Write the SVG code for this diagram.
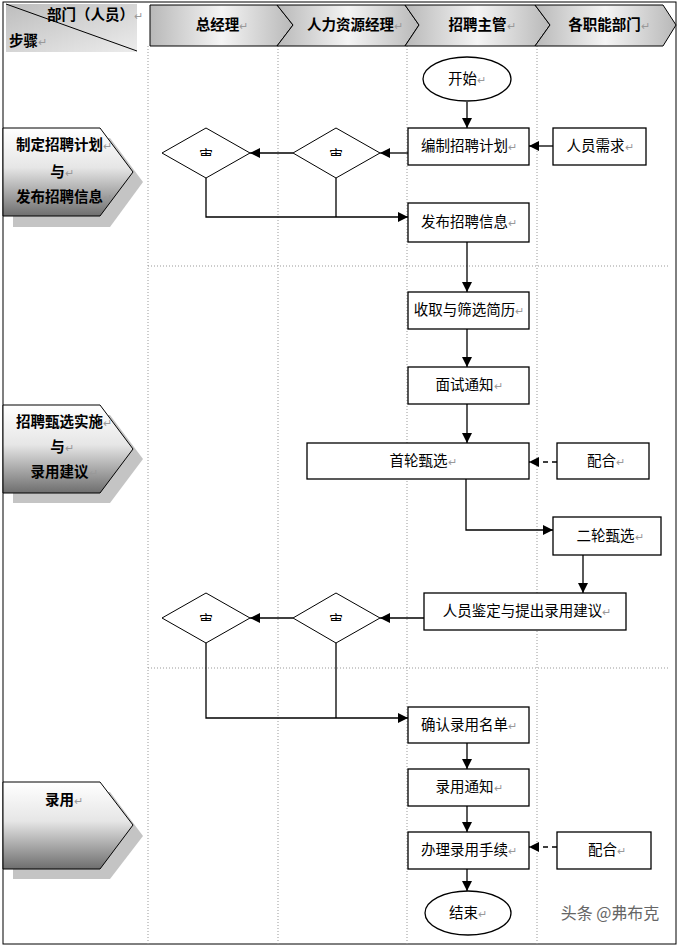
<svg xmlns="http://www.w3.org/2000/svg" width="680" height="948" viewBox="0 0 680 948">
<style>
text{font-family:"Noto Sans CJK SC","Liberation Sans",sans-serif;fill:#000}
.hd{font-size:14.5px;font-weight:bold;text-anchor:middle}
.st{font-size:14.5px;font-weight:bold;text-anchor:middle}
.nd{font-size:14.5px;text-anchor:middle}
.rm{fill:#999;font-weight:normal;font-size:11px}
.box{fill:#fff;stroke:#000;stroke-width:1.3}
.dia{fill:#fff;stroke:#000;stroke-width:1}
.ln{fill:none;stroke:#000;stroke-width:1.3}
.dash{fill:none;stroke:#000;stroke-width:1.3;stroke-dasharray:5,4}
.grid{stroke:#999;stroke-width:1;stroke-dasharray:1,2}
.dt{font-size:14px;text-anchor:middle}
</style>
<defs>
<marker id="ah" viewBox="0 0 10 10" refX="10" refY="5" markerWidth="10" markerHeight="10" markerUnits="userSpaceOnUse" orient="auto">
<path d="M0,0 L10,5 L0,10 z" fill="#000"/>
</marker>
<linearGradient id="hg" x1="0" y1="0" x2="1" y2="0">
<stop offset="0" stop-color="#b8b8b8"/><stop offset="0.5" stop-color="#f4f4f4"/><stop offset="1" stop-color="#b8b8b8"/>
</linearGradient>
<linearGradient id="tl" x1="0" y1="0" x2="1" y2="1">
<stop offset="0" stop-color="#bdbdbd"/><stop offset="1" stop-color="#ececec"/>
</linearGradient>
<linearGradient id="sg" x1="0" y1="0" x2="0" y2="1">
<stop offset="0" stop-color="#ffffff"/><stop offset="0.45" stop-color="#e6e6e6"/><stop offset="1" stop-color="#6e6e6e"/>
</linearGradient>
<clipPath id="half" clipPathUnits="objectBoundingBox"><rect x="0" y="0" width="1" height="0.6"/></clipPath>
</defs>
<rect x="0" y="0" width="680" height="948" fill="#fff"/>
<rect x="3" y="2" width="673" height="942" fill="none" stroke="#000" stroke-width="1"/>

<g id="grid">
<line class="grid" x1="148" y1="46" x2="148" y2="944"/>
<line class="grid" x1="278" y1="46" x2="278" y2="944"/>
<line class="grid" x1="407" y1="46" x2="407" y2="944"/>
<line class="grid" x1="537" y1="46" x2="537" y2="944"/>
<line class="grid" x1="148" y1="266" x2="670" y2="266"/>
<line class="grid" x1="148" y1="668" x2="670" y2="668"/>
</g>

<g id="header">
<g id="corner">
<rect x="6" y="4" width="131" height="48" fill="url(#tl)"/>
<line x1="6" y1="4" x2="137" y2="51" stroke="#000" stroke-width="1"/>
<text class="hd" x="95" y="20">部门（人员）<tspan class="rm">↵</tspan></text>
<text class="hd" x="28" y="46">步骤<tspan class="rm">↵</tspan></text>
</g>
<g id="h1">
<path d="M150,5 L277,5 L293,25 L277,46 L150,46 Z" fill="url(#hg)" stroke="#000" stroke-width="1"/>
<text class="hd" x="222" y="30">总经理<tspan class="rm">↵</tspan></text>
</g>
<g id="h2">
<path d="M277,5 L405,5 L419,25 L405,46 L277,46 L293,25 Z" fill="url(#hg)" stroke="#000" stroke-width="1"/>
<text class="hd" x="355" y="30">人力资源经理<tspan class="rm">↵</tspan></text>
</g>
<g id="h3">
<path d="M405,5 L535,5 L550,25 L535,46 L405,46 L419,25 Z" fill="url(#hg)" stroke="#000" stroke-width="1"/>
<text class="hd" x="482" y="30">招聘主管<tspan class="rm">↵</tspan></text>
</g>
<g id="h4">
<path d="M535,5 L663,5 L676,25 L663,46 L535,46 L550,25 Z" fill="url(#hg)" stroke="#000" stroke-width="1"/>
<text class="hd" x="609" y="30">各职能部门<tspan class="rm">↵</tspan></text>
</g>
</g>

<g id="step1">
<path d="M13,138 L110,138 L143,182 L110,227 L13,227 Z" fill="#c4c4c4"/>
<path d="M3,128 L100,128 L133,172 L100,216 L3,216 Z" fill="url(#sg)" stroke="#000" stroke-width="1"/>
<text class="st" x="64" y="150">制定招聘计划<tspan class="rm">↵</tspan></text>
<text class="st" x="62" y="177">与<tspan class="rm">↵</tspan></text>
<text class="st" x="64" y="202">发布招聘信息<tspan class="rm">↵</tspan></text>
</g>
<g id="step2">
<path d="M13,415 L110,415 L143,459 L110,503 L13,503 Z" fill="#c4c4c4"/>
<path d="M3,405 L100,405 L133,449 L100,493 L3,493 Z" fill="url(#sg)" stroke="#000" stroke-width="1"/>
<text class="st" x="64" y="427">招聘甄选实施<tspan class="rm">↵</tspan></text>
<text class="st" x="62" y="452">与<tspan class="rm">↵</tspan></text>
<text class="st" x="64" y="477">录用建议<tspan class="rm">↵</tspan></text>
</g>
<g id="step3">
<path d="M13,792 L110,792 L143,836 L110,879 L13,879 Z" fill="#c4c4c4"/>
<path d="M3,782 L100,782 L133,825 L100,869 L3,869 Z" fill="url(#sg)" stroke="#000" stroke-width="1"/>
<text class="st" x="64" y="805">录用<tspan class="rm">↵</tspan></text>
</g>

<g id="connectors">
<line class="ln" x1="467" y1="102" x2="467" y2="128" marker-end="url(#ah)"/>
<line class="ln" x1="553" y1="146" x2="529" y2="146" marker-end="url(#ah)"/>
<line class="ln" x1="408" y1="153" x2="380" y2="153" marker-end="url(#ah)"/>
<line class="ln" x1="293" y1="153" x2="250" y2="153" marker-end="url(#ah)"/>
<polyline class="ln" points="206,178 206,217 408,217" marker-end="url(#ah)"/>
<line class="ln" x1="336" y1="178" x2="336" y2="217"/>
<line class="ln" x1="467" y1="242" x2="467" y2="292" marker-end="url(#ah)"/>
<line class="ln" x1="467" y1="329" x2="467" y2="367" marker-end="url(#ah)"/>
<line class="ln" x1="467" y1="404" x2="467" y2="443" marker-end="url(#ah)"/>
<line class="dash" x1="557" y1="462" x2="529" y2="462" marker-end="url(#ah)"/>
<polyline class="ln" points="466,479 466,530 553,530" marker-end="url(#ah)"/>
<line class="ln" x1="583" y1="555" x2="583" y2="593" marker-end="url(#ah)"/>
<line class="ln" x1="424" y1="618" x2="380" y2="618" marker-end="url(#ah)"/>
<line class="ln" x1="293" y1="618" x2="250" y2="618" marker-end="url(#ah)"/>
<polyline class="ln" points="206,643 206,718 408,718" marker-end="url(#ah)"/>
<line class="ln" x1="336" y1="643" x2="336" y2="718"/>
<line class="ln" x1="467" y1="743" x2="467" y2="769" marker-end="url(#ah)"/>
<line class="ln" x1="467" y1="806" x2="467" y2="832" marker-end="url(#ah)"/>
<line class="dash" x1="557" y1="847" x2="529" y2="847" marker-end="url(#ah)"/>
<line class="ln" x1="467" y1="869" x2="467" y2="891" marker-end="url(#ah)"/>
</g>

<g id="start">
<ellipse cx="467" cy="79" rx="44" ry="22" class="box"/>
<text class="nd" x="467" y="84">开始<tspan class="rm">↵</tspan></text>
</g>
<g id="plan">
<rect class="box" x="408" y="128" width="121" height="37"/>
<text class="nd" x="469" y="151">编制招聘计划<tspan class="rm">↵</tspan></text>
</g>
<g id="need">
<rect class="box" x="553" y="128" width="93" height="37"/>
<text class="nd" x="600" y="151">人员需求<tspan class="rm">↵</tspan></text>
</g>
<g id="d1a">
<polygon class="dia" points="206,128 250,153 206,178 162,153"/>
<text class="dt" x="206" y="160" clip-path="url(#half)">审</text>
</g>
<g id="d1b">
<polygon class="dia" points="336,128 380,153 336,178 293,153"/>
<text class="dt" x="336" y="160" clip-path="url(#half)">审</text>
</g>
<g id="publish">
<rect class="box" x="408" y="203" width="121" height="39"/>
<text class="nd" x="469" y="227">发布招聘信息<tspan class="rm">↵</tspan></text>
</g>
<g id="collect">
<rect class="box" x="408" y="292" width="121" height="37"/>
<text class="nd" x="469" y="315">收取与筛选简历<tspan class="rm">↵</tspan></text>
</g>
<g id="notice">
<rect class="box" x="408" y="367" width="121" height="37"/>
<text class="nd" x="469" y="390">面试通知<tspan class="rm">↵</tspan></text>
</g>
<g id="first">
<rect class="box" x="307" y="443" width="222" height="36"/>
<text class="nd" x="423" y="466">首轮甄选<tspan class="rm">↵</tspan></text>
</g>
<g id="coop1">
<rect class="box" x="557" y="443" width="92" height="36"/>
<text class="nd" x="606" y="466">配合<tspan class="rm">↵</tspan></text>
</g>
<g id="second">
<rect class="box" x="553" y="517" width="108" height="38"/>
<text class="nd" x="610" y="541">二轮甄选<tspan class="rm">↵</tspan></text>
</g>
<g id="assess">
<rect class="box" x="424" y="593" width="202" height="37"/>
<text class="nd" x="527" y="616">人员鉴定与提出录用建议<tspan class="rm">↵</tspan></text>
</g>
<g id="d2a">
<polygon class="dia" points="206,593 250,618 206,643 162,618"/>
<text class="dt" x="206" y="625" clip-path="url(#half)">审</text>
</g>
<g id="d2b">
<polygon class="dia" points="336,593 380,618 336,643 293,618"/>
<text class="dt" x="336" y="625" clip-path="url(#half)">审</text>
</g>
<g id="confirm">
<rect class="box" x="408" y="707" width="121" height="36"/>
<text class="nd" x="469" y="730">确认录用名单<tspan class="rm">↵</tspan></text>
</g>
<g id="hire">
<rect class="box" x="408" y="769" width="121" height="37"/>
<text class="nd" x="469" y="792">录用通知<tspan class="rm">↵</tspan></text>
</g>
<g id="proc">
<rect class="box" x="408" y="832" width="121" height="37"/>
<text class="nd" x="469" y="855">办理录用手续<tspan class="rm">↵</tspan></text>
</g>
<g id="coop2">
<rect class="box" x="557" y="832" width="94" height="37"/>
<text class="nd" x="607" y="855">配合<tspan class="rm">↵</tspan></text>
</g>
<g id="end">
<ellipse cx="468" cy="913" rx="43" ry="22" class="box"/>
<text class="nd" x="468" y="918">结束<tspan class="rm">↵</tspan></text>
</g>
<text x="610" y="919" style="font-size:16px;fill:#666;text-anchor:middle">头条 @弗布克</text>
</svg>
